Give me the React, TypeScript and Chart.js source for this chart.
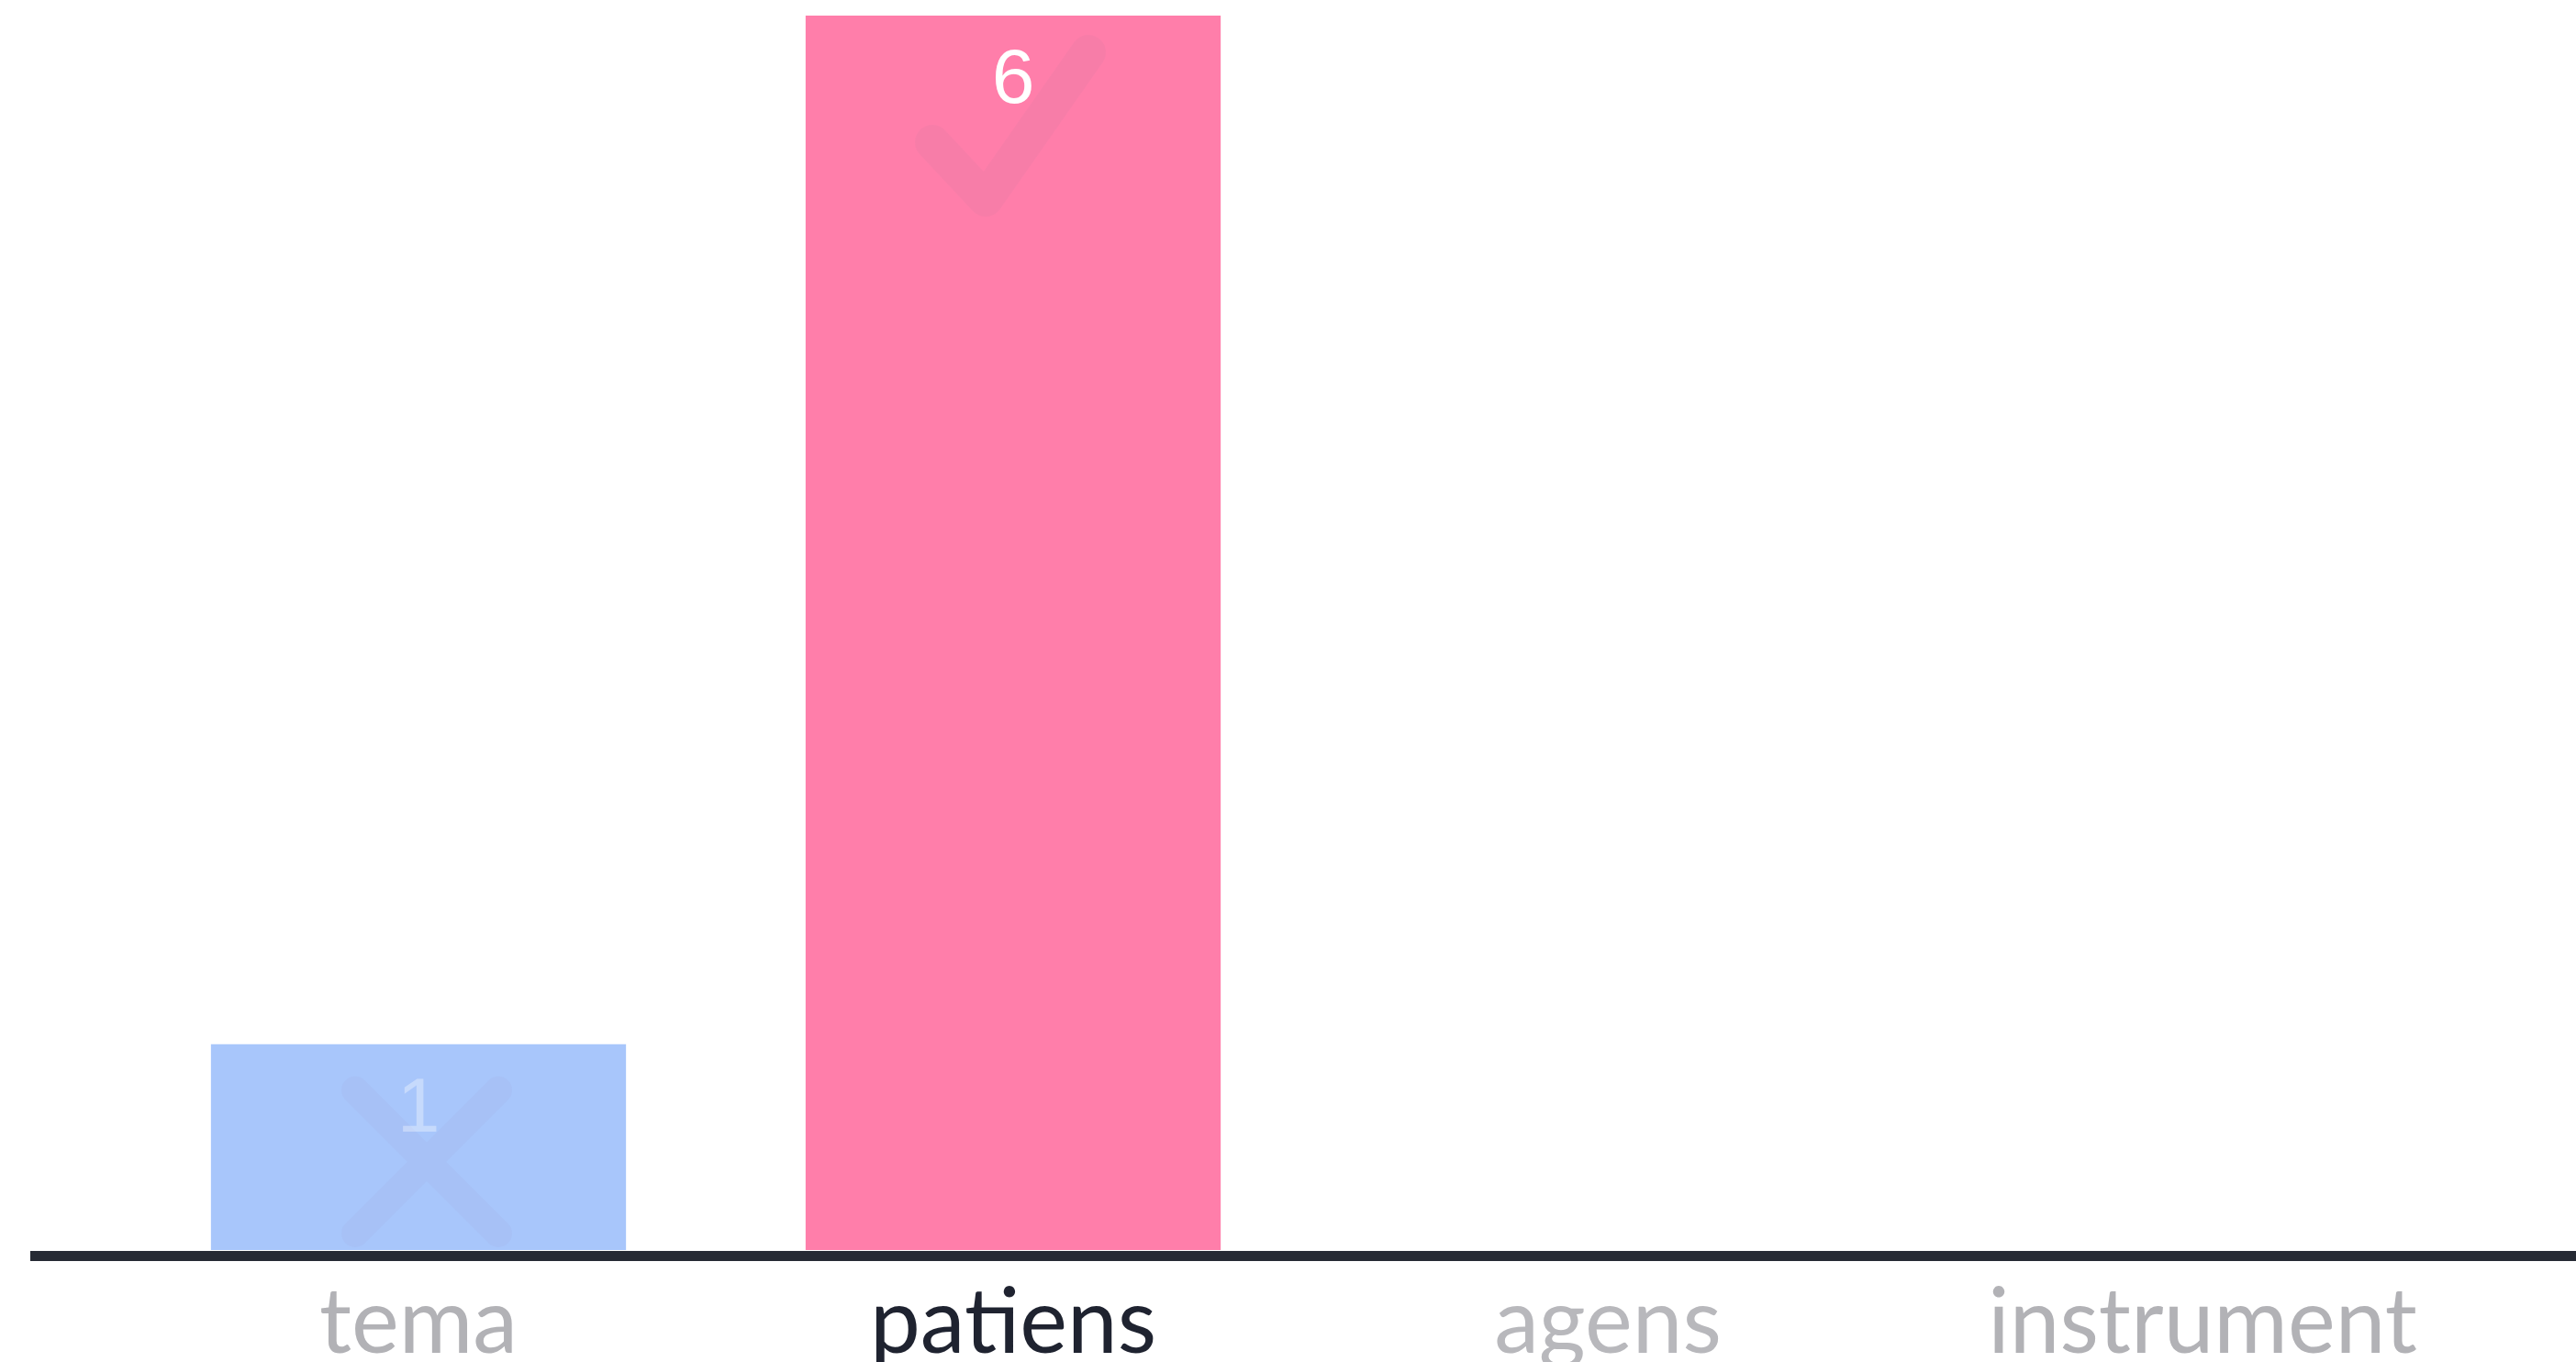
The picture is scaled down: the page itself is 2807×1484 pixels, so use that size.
import React, { useEffect, useRef } from "react";
import { Chart, registerables } from "chart.js";

Chart.register(...registerables);

const categories = ["tema", "patiens", "agens", "instrument"];
const votes = [1, 6, 0, 0];
const barColors = ["#a8c6fb", "#ff7eaa", "#a8c6fb", "#a8c6fb"];
const tickColors = ["#b2b2b6", "#1f2330", "#b8b8bc", "#b2b2b6"];
const valueLabelAlpha = [0.35, 1, 0, 0];
const markKinds = ["cross", "check", "none", "none"];

const W = 2807;
const H = 1484;

const decorPlugin = {
  id: "decor",
  afterDatasetsDraw(chart: any) {
    const ctx = chart.ctx;
    const meta = chart.getDatasetMeta(0);
    ctx.save();
    meta.data.forEach((bar: any, i: number) => {
      const kind = markKinds[i];
      if (kind === "cross") {
        ctx.strokeStyle = "rgba(160,165,225,0.16)";
        ctx.lineWidth = 30;
        ctx.lineCap = "round";
        const cx = bar.x + 9;
        const cy = bar.y + 128;
        const s = 78;
        ctx.beginPath();
        ctx.moveTo(cx - s, cy - s);
        ctx.lineTo(cx + s, cy + s);
        ctx.moveTo(cx + s, cy - s);
        ctx.lineTo(cx - s, cy + s);
        ctx.stroke();
      } else if (kind === "check") {
        ctx.strokeStyle = "rgba(205,125,160,0.16)";
        ctx.lineWidth = 38;
        ctx.lineCap = "round";
        ctx.lineJoin = "round";
        ctx.beginPath();
        ctx.moveTo(bar.x - 88, bar.y + 138);
        ctx.lineTo(bar.x - 30, bar.y + 200);
        ctx.lineTo(bar.x + 82, bar.y + 40);
        ctx.stroke();
      }
    });
    // value labels
    ctx.font = "400 84px 'Liberation Sans', Arial, sans-serif";
    ctx.textAlign = "center";
    ctx.textBaseline = "middle";
    meta.data.forEach((bar: any, i: number) => {
      const a = valueLabelAlpha[i];
      if (a <= 0) return;
      ctx.fillStyle = `rgba(255,255,255,${a})`;
      ctx.fillText(String(votes[i]), bar.x, bar.y + 72);
    });
    // baseline axis line
    const yBase = chart.scales.y.getPixelForValue(0) + 6;
    ctx.fillStyle = "#262a34";
    ctx.fillRect(33, yBase - 5, W - 33, 11);
    ctx.restore();
  },
};

export default function App() {
  const ref = useRef<HTMLCanvasElement | null>(null);
  useEffect(() => {
    if (!ref.current) return;
    const chart = new Chart(ref.current, {
      type: "bar",
      data: {
        labels: categories,
        datasets: [
          {
            data: votes,
            backgroundColor: barColors,
            borderWidth: 0,
            barPercentage: 0.698,
            categoryPercentage: 1,
          },
        ],
      },
      options: {
        responsive: false,
        animation: false,
        events: [],
        layout: { padding: { left: 132, right: 83, top: 17, bottom: -30 } },
        plugins: {
          legend: { display: false },
          tooltip: { enabled: false },
          title: { display: false },
        },
        scales: {
          x: {
            grid: { display: false },
            border: { display: false },
            ticks: {
              color: tickColors,
              padding: 23,
              maxRotation: 0,
              font: { family: "Lato, 'Open Sans', sans-serif", size: 98, weight: "400", lineHeight: 1.0 },
            },
          },
          y: {
            display: false,
            min: 0,
            max: 6,
          },
        },
      },
      plugins: [decorPlugin],
    });
    return () => chart.destroy();
  }, []);
  return (
    <div style={{ position: "absolute", left: 0, top: 0, width: W, height: H, background: "#ffffff" }}>
      <canvas ref={ref} width={W} height={H} style={{ display: "block", width: W, height: H }} />
    </div>
  );
}
